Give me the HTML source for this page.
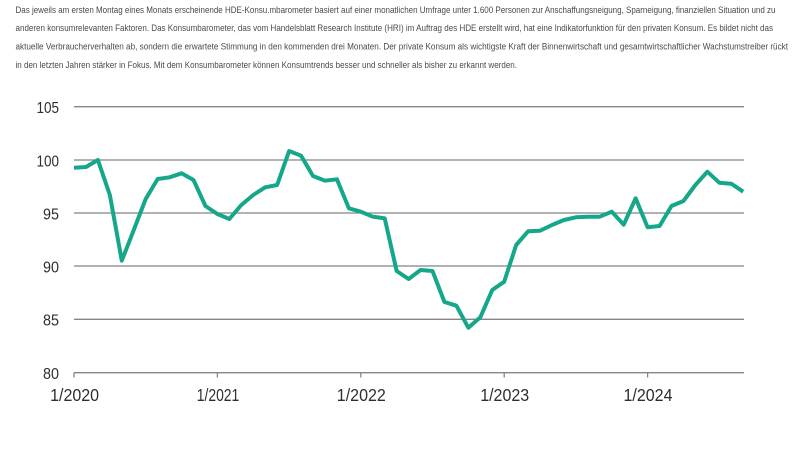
<!DOCTYPE html>
<html>
<head>
<meta charset="utf-8">
<style>
  html, body { margin: 0; padding: 0; background: #ffffff; }
  body { width: 800px; height: 450px; overflow: hidden; }
  svg { display: block; }
  .p { font-family: "Liberation Sans", sans-serif; font-size: 8.8px; fill: #4a4a4a; }
  .ax { font-family: "Liberation Sans", sans-serif; font-size: 16px; fill: #2e2e2e; }
  .xl { font-family: "Liberation Sans", sans-serif; font-size: 17.5px; fill: #2e2e2e; }
</style>
</head>
<body>
<svg width="800" height="450" viewBox="0 0 800 450" xmlns="http://www.w3.org/2000/svg">
  <rect width="800" height="450" fill="#fff"/>

  <text class="p" x="15.5" y="12.9" textLength="760" lengthAdjust="spacingAndGlyphs">Das jeweils am ersten Montag eines Monats erscheinende HDE-Konsu.mbarometer basiert auf einer monatlichen Umfrage unter 1.600 Personen zur Anschaffungsneigung, Sparneigung, finanziellen Situation und zu</text>
  <text class="p" x="15.5" y="31.2" textLength="757.5" lengthAdjust="spacingAndGlyphs">anderen konsumrelevanten Faktoren. Das Konsumbarometer, das vom Handelsblatt Research Institute (HRI) im Auftrag des HDE erstellt wird, hat eine Indikatorfunktion für den privaten Konsum. Es bildet nicht das</text>
  <text class="p" x="15.5" y="49.7" textLength="772.5" lengthAdjust="spacingAndGlyphs">aktuelle Verbraucherverhalten ab, sondern die erwartete Stimmung in den kommenden drei Monaten. Der private Konsum als wichtigste Kraft der Binnenwirtschaft und gesamtwirtschaftlicher Wachstumstreiber rückt</text>
  <text class="p" x="15.5" y="67.9" textLength="501.5" lengthAdjust="spacingAndGlyphs">in den letzten Jahren stärker in Fokus. Mit dem Konsumbarometer können Konsumtrends besser und schneller als bisher zu erkannt werden.</text>

  <!-- gridlines -->
  <g stroke="#858585" stroke-width="1.3">
    <line x1="74" y1="106.7" x2="744" y2="106.7"/>
    <line x1="74" y1="160" x2="744" y2="160"/>
    <line x1="74" y1="213" x2="744" y2="213"/>
    <line x1="74" y1="266" x2="744" y2="266"/>
    <line x1="74" y1="319.3" x2="744" y2="319.3"/>
    <line x1="74" y1="372.7" x2="744" y2="372.7"/>
    <line x1="74" y1="372.7" x2="74" y2="377.5"/>
    <line x1="217.4" y1="372.7" x2="217.4" y2="377.5"/>
    <line x1="360.8" y1="372.7" x2="360.8" y2="377.5"/>
    <line x1="504.2" y1="372.7" x2="504.2" y2="377.5"/>
    <line x1="647.6" y1="372.7" x2="647.6" y2="377.5"/>
  </g>

  <!-- y labels -->
  <g class="ax" text-anchor="end">
    <text x="59" y="113" textLength="22.5" lengthAdjust="spacingAndGlyphs">105</text>
    <text x="59" y="166.3" textLength="22.5" lengthAdjust="spacingAndGlyphs">100</text>
    <text x="59" y="219.3" textLength="16" lengthAdjust="spacingAndGlyphs">95</text>
    <text x="59" y="272.3" textLength="16" lengthAdjust="spacingAndGlyphs">90</text>
    <text x="59" y="325.6" textLength="16" lengthAdjust="spacingAndGlyphs">85</text>
    <text x="59" y="379" textLength="16" lengthAdjust="spacingAndGlyphs">80</text>
  </g>

  <!-- x labels -->
  <g class="xl" text-anchor="middle">
    <text x="74.6" y="401" textLength="49" lengthAdjust="spacingAndGlyphs">1/2020</text>
    <text x="218" y="401" textLength="42.5" lengthAdjust="spacingAndGlyphs">1/2021</text>
    <text x="361.3" y="401" textLength="49" lengthAdjust="spacingAndGlyphs">1/2022</text>
    <text x="504.7" y="401" textLength="49" lengthAdjust="spacingAndGlyphs">1/2023</text>
    <text x="648" y="401" textLength="49" lengthAdjust="spacingAndGlyphs">1/2024</text>
  </g>

  <!-- series -->
  <polyline fill="none" stroke="#15a78a" stroke-width="4" stroke-linejoin="round" stroke-linecap="butt"
    points="74,167.7 85.95,167 97.9,160 109.85,195 121.8,260.7 133.75,230 145.7,199 157.65,179 169.6,177.3 181.55,173.3 193.5,180 205.45,206 217.4,214 229.35,219 241.3,205 253.25,195 265.2,187.3 277.15,185 289.1,151 301.05,155.7 313,176 324.95,180.7 336.9,179.3 348.85,208.3 360.8,211.7 372.75,216.7 384.7,218.3 396.65,271 408.6,279 420.55,270 432.5,271 444.45,302 456.4,305.7 468.35,327.7 480.3,317.3 492.25,290 504.2,281.7 516.15,245 528.1,231.3 540.05,230.7 552,225 563.95,220 575.9,217.3 587.85,216.7 599.8,216.7 611.75,211.7 623.7,224.7 635.65,198.3 647.6,227.3 659.55,226 671.5,206 683.45,201 695.4,185 707.35,171.7 719.3,182.7 731.25,183.7 743.2,191.7"/>
</svg>
</body>
</html>
